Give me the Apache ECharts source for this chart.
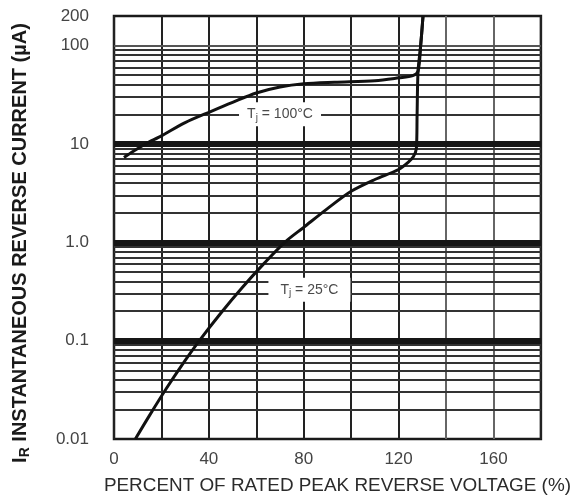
<!DOCTYPE html>
<html>
<head>
<meta charset="utf-8">
<script src="https://cdn.jsdelivr.net/npm/echarts@6/dist/echarts.min.js"></script>
<style>
  html, body { margin: 0; padding: 0; background: #fff; }
  #chart { width: 574px; height: 500px; }
</style>
</head>
<body>
<div id="chart"></div>
<script>
// ---- data ----
const pct100 = [4.2, 8, 13.3, 20, 30, 41, 50, 60, 70, 80, 93, 110, 120, 126, 128.2, 129.3, 130.3];
const cur100 = [7.3, 8.4, 10, 12.1, 16.5, 21.5, 26.5, 33, 38, 41, 42.5, 44, 47, 49.5, 55, 100, 200];

const pct25 = [9, 15, 22, 29, 36, 45, 54, 63, 72, 80, 90, 100, 110, 120, 124, 126.2, 127.5, 127.8, 128.2, 129.3, 130.3];
const cur25 = [0.01, 0.0174, 0.0324, 0.058, 0.1, 0.19, 0.345, 0.6, 1.0, 1.42, 2.2, 3.3, 4.35, 5.5, 6.5, 7.4, 9, 20, 55, 100, 200];

const xTickLabels = [0, 40, 80, 120, 160];
const yTickLabels = ['0.01', '0.1', '1.0', '10', '100', '200'];
const decadeLines = [0.1, 1, 10];
const minorDecades = [0.01, 0.1, 1, 10];
const minorMultipliers = [2, 3, 4, 5, 6, 7, 8, 9];
const extraLines = [100];

const curveLabels = ['T{s|j} = 100°C', 'T{s|j} = 25°C'];
const curveLabelPct = [70, 82.4];
const curveLabelCur = [20, 0.33];
// ---------------------------------------

const FONT = '"Liberation Sans", Arial, Helvetica, sans-serif';

function pairs(xs, ys) { return xs.map((x, i) => [x, ys[i]]); }

const hLines = [];
minorDecades.forEach(d => minorMultipliers.forEach(m => {
  hLines.push({ yAxis: Number((d * m).toPrecision(6)), lineStyle: { color: '#333', width: 1.8, type: 'solid' } });
}));
extraLines.forEach(v => hLines.push({ yAxis: v, lineStyle: { color: '#555', width: 1.8, type: 'solid' } }));
decadeLines.forEach(v => hLines.push({ yAxis: v, lineStyle: { color: '#161616', width: 6, type: 'solid' } }));

function fmtY(v) {
  const r = Number(Number(v).toPrecision(6));
  const map = { 0.01: yTickLabels[0], 0.1: yTickLabels[1], 1: yTickLabels[2], 10: yTickLabels[3], 100: yTickLabels[4], 200: yTickLabels[5] };
  return map[r] !== undefined ? map[r] : '';
}

const chart = echarts.init(document.getElementById('chart'), null, { renderer: 'canvas' });
chart.setOption({
  animation: false,
  backgroundColor: '#fff',
  textStyle: { fontFamily: FONT },
  grid: {
    left: 114, right: 31, top: 16, bottom: 59,
    show: true, borderColor: '#1a1a1a', borderWidth: 2.5, backgroundColor: 'transparent'
  },
  xAxis: {
    type: 'value', min: 0, max: 180, interval: 20,
    name: 'PERCENT OF RATED PEAK REVERSE VOLTAGE (%)',
    nameLocation: 'middle', nameGap: 37,
    nameTextStyle: { fontFamily: FONT, fontSize: 18.9, color: '#2b2b2b', padding: [0, 0, 0, 20] },
    axisLine: { show: false }, axisTick: { show: false },
    axisLabel: {
      margin: 12, fontFamily: FONT, fontSize: 17, color: '#444',
      formatter: v => (xTickLabels.indexOf(v) >= 0 ? String(v) : '')
    },
    splitLine: {
      show: true,
      lineStyle: { width: 2, color: ['#222', '#222', '#222', '#222', '#222', '#222', '#222', '#666', '#666', '#222'] }
    }
  },
  yAxis: {
    type: 'log', logBase: 10, min: 0.01, max: 200,
    name: 'I{s|R} INSTANTANEOUS REVERSE CURRENT (µA)',
    nameLocation: 'middle', nameRotate: 90, nameGap: 82,
    nameTextStyle: {
      fontFamily: FONT, fontSize: 20, fontWeight: 'bold', color: '#1a1a1a', padding: [0, 31, 0, 0],
      rich: { s: { fontFamily: FONT, fontSize: 14, fontWeight: 'bold', color: '#1a1a1a', padding: [9, 0, 0, 0] } }
    },
    axisLine: { show: false }, axisTick: { show: false },
    axisLabel: { margin: 25, fontFamily: FONT, fontSize: 17, color: '#444', formatter: fmtY },
    splitLine: { show: false },
    minorTick: { show: false }, minorSplitLine: { show: false }
  },
  series: [
    {
      name: 'grid', type: 'line', data: [], silent: true, z: 1,
      markLine: { silent: true, z: 1, symbol: ['none', 'none'], label: { show: false }, animation: false, data: hLines }
    },
    {
      name: 'labels', type: 'scatter', z: 4, silent: true,
      symbol: 'rect', symbolSize: [82, 24],
      itemStyle: { color: '#fff', opacity: 1 },
      data: curveLabels.map((t, i) => ({ value: [curveLabelPct[i], curveLabelCur[i]], text: t })),
      label: {
        show: true, position: 'inside', fontFamily: FONT, fontSize: 14, color: '#4a4a4a',
        formatter: p => p.data.text,
        rich: { s: { fontFamily: FONT, fontSize: 10, color: '#4a4a4a', padding: [8, 0, 0, 0] } }
      }
    },
    {
      name: 'Tj = 100°C', type: 'line', z: 10, data: pairs(pct100, cur100),
      smooth: 0.3, showSymbol: false, symbol: 'none',
      lineStyle: { color: '#111', width: 3 }
    },
    {
      name: 'Tj = 25°C', type: 'line', z: 10, data: pairs(pct25, cur25),
      smooth: 0.3, showSymbol: false, symbol: 'none',
      lineStyle: { color: '#111', width: 3 }
    }
  ]
});
</script>
</body>
</html>
